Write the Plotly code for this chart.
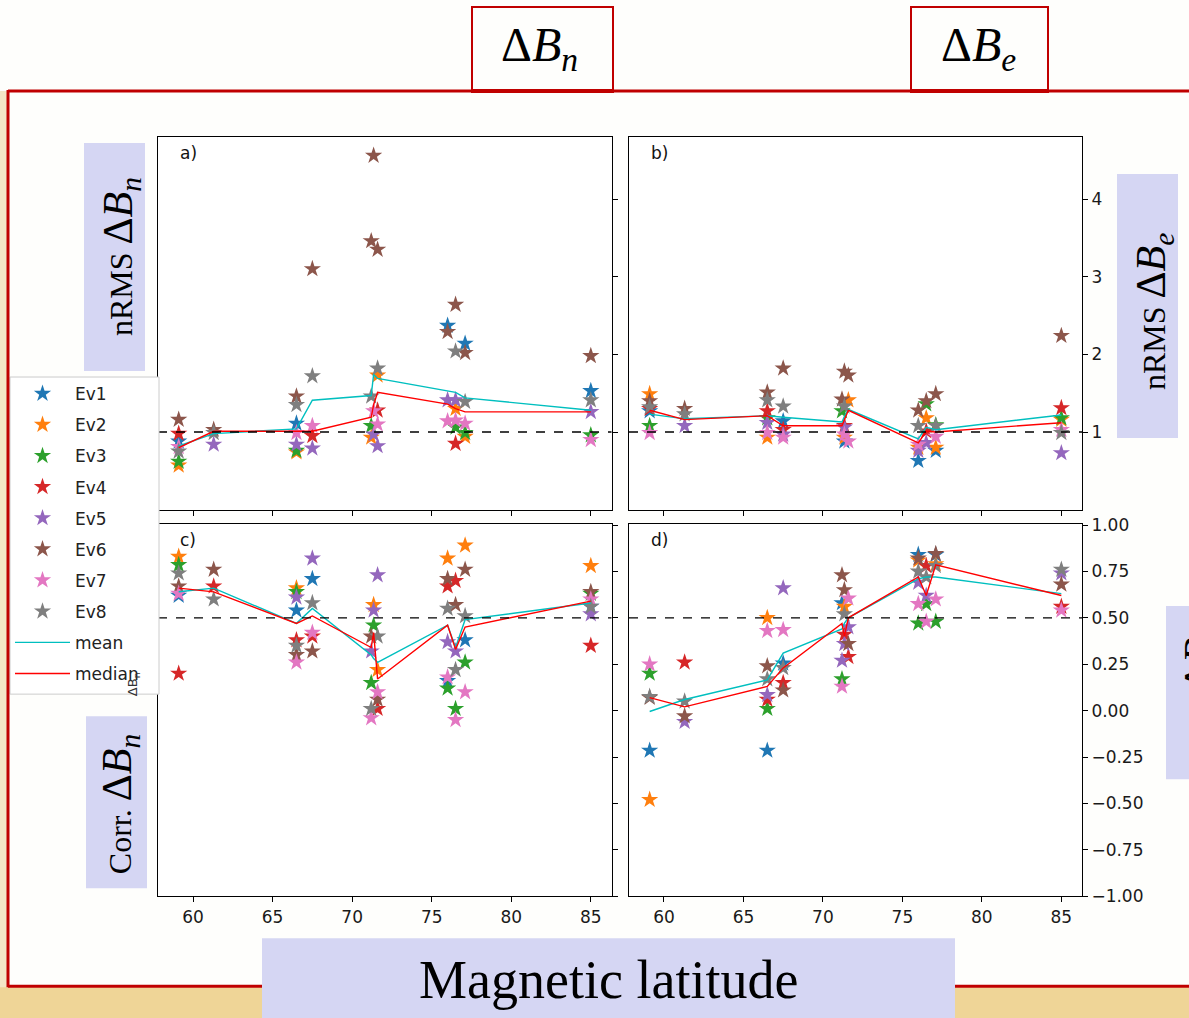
import plotly.graph_objects as go

W, H = 1189, 1018

# ---------------- data ----------------
lat = [59.1, 61.3, 66.5, 67.5, 71.2, 71.35, 71.6, 76.0, 76.5, 77.1, 85.0]
events = ["Ev1", "Ev2", "Ev3", "Ev4", "Ev5", "Ev6", "Ev7", "Ev8"]
xticks = [60, 65, 70, 75, 80, 85]
nrms_ticks = [1, 2, 3, 4]
corr_ticks = [-1.0, -0.75, -0.5, -0.25, 0.0, 0.25, 0.5, 0.75, 1.0]

# a) nRMS dBn  (rows: Ev1..Ev8, columns: lat)
nrms_bn = [
    [0.88, None, 1.11, None, None, None, None, 2.37, None, 2.14, 1.53],
    [0.57, None, 0.74, None, 0.93, None, 1.73, None, 1.30, 0.94, None],
    [0.62, None, 0.76, None, 1.08, None, None, None, 1.06, 0.99, 0.96],
    [0.98, None, None, 0.95, None, None, 1.28, None, 0.85, None, None],
    [None, 0.84, 0.84, 0.79, None, 0.97, 0.82, 1.41, 1.41, None, 1.26],
    [1.16, 1.03, 1.46, 3.10, 3.46, 4.56, 3.35, 2.29, 2.64, 2.02, 1.98],
    [0.81, None, 0.99, 1.08, None, 1.27, 1.10, 1.14, 1.15, 1.11, 0.90],
    [0.75, 0.99, 1.35, 1.72, 1.46, None, 1.82, None, 2.04, 1.39, 1.41],
]
mean_nrms_bn = [0.82, 0.98, 1.04, 1.41, 1.47, 1.74, 1.69, 1.53, 1.51, 1.44, 1.28]
med_nrms_bn = [0.80, 1.01, 1.01, 1.01, 1.19, 1.35, 1.51, 1.36, 1.30, 1.26, 1.26]

# b) nRMS dBe
nrms_be = [
    [1.27, None, None, 1.14, None, 0.88, None, 0.63, None, 0.76, None],
    [1.49, None, 0.93, None, None, 0.93, 1.41, 0.80, 1.18, 0.80, 1.16],
    [1.08, None, 1.18, None, 1.27, None, None, None, 1.36, 1.09, 1.18],
    [1.30, None, 1.27, 1.03, None, 1.08, None, None, 1.01, None, 1.31],
    [None, 1.08, 1.12, 0.97, None, 1.06, None, 0.76, 0.86, None, 0.73],
    [1.40, 1.30, 1.51, 1.82, 1.42, 1.78, 1.73, 1.28, 1.40, 1.49, 2.24],
    [0.99, None, 0.99, 0.93, None, 0.97, 0.88, 0.84, None, 0.94, 1.03],
    [1.32, 1.23, 1.41, 1.33, None, 1.33, None, 1.08, None, 1.08, 0.99],
]
mean_nrms_be = [1.23, 1.17, 1.21, 1.19, 1.13, 1.20, 1.29, 0.91, 1.06, 1.03, 1.22]
med_nrms_be = [1.28, 1.16, 1.21, 1.08, 1.08, 1.15, 1.28, 0.86, 1.01, 1.00, 1.12]

# c) Corr dBn
corr_bn = [
    [0.62, None, 0.54, 0.71, None, None, None, 0.16, None, 0.38, 0.56],
    [0.83, None, 0.66, None, None, 0.57, 0.22, 0.82, None, 0.89, 0.78],
    [0.785, None, 0.64, None, 0.15, 0.46, None, 0.12, 0.01, 0.26, 0.63],
    [0.20, 0.67, 0.38, 0.40, None, None, 0.01, 0.67, 0.70, None, 0.35],
    [None, None, 0.61, 0.82, 0.32, 0.54, 0.73, 0.37, 0.32, None, 0.52],
    [0.67, 0.76, 0.30, 0.32, 0.40, None, 0.06, 0.71, 0.57, 0.76, 0.64],
    [0.63, None, 0.26, 0.42, -0.04, None, 0.10, 0.18, -0.05, 0.10, 0.60],
    [0.74, 0.60, 0.35, 0.58, 0.01, None, 0.40, 0.55, 0.22, 0.51, 0.56],
]
mean_corr_bn = [0.64, 0.66, 0.47, 0.55, 0.30, 0.28, 0.26, 0.46, 0.34, 0.49, 0.58]
med_corr_bn = [0.66, 0.64, 0.47, 0.51, 0.34, 0.42, 0.17, 0.46, 0.33, 0.45, 0.59]

# d) Corr dBe
corr_be = [
    [-0.215, None, -0.215, 0.255, 0.58, None, None, 0.84, None, 0.84, None],
    [-0.48, None, 0.50, None, None, 0.56, None, 0.81, None, 0.79, None],
    [0.20, None, 0.01, None, 0.17, None, None, 0.47, 0.575, 0.48, None],
    [None, 0.26, 0.06, 0.15, None, 0.41, 0.29, None, 0.78, None, 0.56],
    [None, -0.06, 0.085, 0.66, 0.27, 0.36, 0.45, 0.69, 0.62, None, 0.74],
    [0.07, -0.03, 0.24, 0.11, 0.73, 0.65, 0.36, 0.82, None, 0.845, 0.68],
    [0.25, None, 0.43, 0.435, 0.13, None, 0.605, 0.575, 0.48, 0.60, 0.54],
    [0.075, 0.05, 0.17, 0.23, None, 0.52, None, 0.75, 0.72, 0.78, 0.76],
]
mean_corr_be = [-0.005, 0.06, 0.165, 0.31, 0.44, 0.47, 0.50, 0.71, 0.72, 0.72, 0.63]
med_corr_be = [0.07, 0.02, 0.13, 0.23, 0.47, 0.40, 0.50, 0.72, 0.62, 0.785, 0.62]

# ---------------- style ----------------
colors = ["#1f77b4", "#ff7f0e", "#2ca02c", "#d62728",
          "#9467bd", "#8c564b", "#e377c2", "#7f7f7f"]
MEAN_C = "#00bfbf"
MED_C = "#ff0000"
RED = "#c00000"
LAV = "#d5d6f3"
TICKFONT = dict(family="DejaVu Sans", size=17, color="#1a1a1a")

# observed page offset / vertical squeeze of the rendered figure
Y_OFF, Y_SC = 8.1, 0.981


def px(x):
    return x / W


def py(y):
    return 1 - ((y - Y_OFF) / Y_SC) / H


fig = go.Figure()

panels = [
    (nrms_bn, mean_nrms_bn, med_nrms_bn, "x", "y"),
    (nrms_be, mean_nrms_be, med_nrms_be, "x2", "y2"),
    (corr_bn, mean_corr_bn, med_corr_bn, "x3", "y3"),
    (corr_be, mean_corr_be, med_corr_be, "x4", "y4"),
]

for pi, (data, mean, med, xa, ya) in enumerate(panels):
    for ei, name in enumerate(events):
        fig.add_trace(go.Scatter(
            x=lat, y=data[ei], mode="markers", name=name,
            legendgroup=name, showlegend=(pi == 0),
            marker=dict(symbol="star", size=13, color=colors[ei],
                        line=dict(width=0)),
            xaxis=xa, yaxis=ya, hoverinfo="skip"))
    fig.add_trace(go.Scatter(
        x=lat, y=mean, mode="lines", name="mean", legendgroup="mean",
        showlegend=(pi == 0), line=dict(color=MEAN_C, width=1.4),
        xaxis=xa, yaxis=ya, hoverinfo="skip"))
    fig.add_trace(go.Scatter(
        x=lat, y=med, mode="lines", name="median", legendgroup="median",
        showlegend=(pi == 0), line=dict(color=MED_C, width=1.4),
        xaxis=xa, yaxis=ya, hoverinfo="skip"))

xdom_l = [px(158), px(611.5)]
xdom_r = [px(629), px(1082)]
ydom_t = [py(508.6), py(136)]
ydom_b = [py(895), py(523)]

ax_common = dict(showgrid=False, zeroline=False, showline=True,
                 linecolor="black", linewidth=1, mirror=True,
                 ticks="outside", ticklen=5, tickwidth=1, tickcolor="black",
                 tickfont=TICKFONT)

xcommon = dict(ax_common, range=[57.8, 86.3], tickvals=xticks)
ytop = dict(ax_common, range=[0, 4.8], tickvals=nrms_ticks, side="right")
ybot = dict(ax_common, range=[-1.0, 1.005], tickvals=corr_ticks,
            tickformat=".2f", side="right")

fig.update_layout(
    xaxis=dict(xcommon, domain=xdom_l, anchor="y", showticklabels=False),
    yaxis=dict(ytop, domain=ydom_t, anchor="x", showticklabels=False),
    xaxis2=dict(xcommon, domain=xdom_r, anchor="y2", showticklabels=False),
    yaxis2=dict(ytop, domain=ydom_t, anchor="x2"),
    xaxis3=dict(xcommon, domain=xdom_l, anchor="y3"),
    yaxis3=dict(ybot, domain=ydom_b, anchor="x3", showticklabels=False),
    xaxis4=dict(xcommon, domain=xdom_r, anchor="y4"),
    yaxis4=dict(ybot, domain=ydom_b, anchor="x4"),
)

shapes = []
# slide background pieces
shapes.append(dict(type="rect", xref="paper", yref="paper", layer="below",
                   x0=px(0), x1=px(8), y0=py(90), y1=py(1030),
                   fillcolor="#f4e6c6", line=dict(width=0)))
shapes.append(dict(type="rect", xref="paper", yref="paper", layer="below",
                   x0=px(0), x1=px(1189), y0=py(986), y1=py(1030),
                   fillcolor="#efd597", line=dict(width=0)))

# dashed reference lines
for xr, yr, yv in [("x", "y", 1), ("x2", "y2", 1), ("x3", "y3", 0.5), ("x4", "y4", 0.5)]:
    shapes.append(dict(type="line", xref=xr + " domain", yref=yr, layer="above",
                       x0=0, x1=1, y0=yv, y1=yv,
                       line=dict(color="black", width=1.3, dash="dash")))

# legend frame
shapes.append(dict(type="rect", xref="paper", yref="paper", layer="above",
                   x0=px(10), x1=px(159), y0=py(693), y1=py(376),
                   fillcolor="white", line=dict(color="#cccccc", width=1)))

# red frame
shapes.append(dict(type="line", xref="paper", yref="paper", layer="above",
                   x0=px(8), x1=px(1189), y0=py(90), y1=py(90),
                   line=dict(color=RED, width=3)))
shapes.append(dict(type="line", xref="paper", yref="paper", layer="above",
                   x0=px(8), x1=px(8), y0=py(89), y1=py(986),
                   line=dict(color=RED, width=3)))
shapes.append(dict(type="line", xref="paper", yref="paper", layer="above",
                   x0=px(8), x1=px(1189), y0=py(985), y1=py(985),
                   line=dict(color=RED, width=3)))

# top boxes
for x0, x1 in [(472, 613), (911, 1048)]:
    shapes.append(dict(type="rect", xref="paper", yref="paper", layer="above",
                       x0=px(x0), x1=px(x1), y0=py(91), y1=py(6),
                       fillcolor="#fefefc", line=dict(color=RED, width=2)))
    shapes.append(dict(type="line", xref="paper", yref="paper", layer="above",
                       x0=px(x0), x1=px(x1), y0=py(90), y1=py(90),
                       line=dict(color=RED, width=4)))

# lavender boxes
for x0, x1, y0, y1 in [(84, 145, 142, 370), (1117, 1178, 173, 437),
                       (86, 147, 715, 887), (1166, 1189, 605, 778),
                       (262, 955, 937, 1030)]:
    shapes.append(dict(type="rect", xref="paper", yref="paper", layer="above",
                       x0=px(x0), x1=px(x1), y0=py(y1), y1=py(y0),
                       fillcolor=LAV, line=dict(width=0)))

annotations = []
for ref, lab in [("x", "a)"), ("x2", "b)"), ("x3", "c)"), ("x4", "d)")]:
    yref = ref.replace("x", "y")
    annotations.append(dict(xref=ref + " domain", yref=yref + " domain",
                            x=0.045, y=0.99, xanchor="left", yanchor="top",
                            text=lab, showarrow=False,
                            font=dict(family="DejaVu Sans", size=17, color="#111")))

SERIF = "Liberation Serif"
math_n = "<span style='font-size:42px'>Δ<i>B</i><sub><i>n</i></sub></span>"
math_e = "<span style='font-size:42px'>Δ<i>B</i><sub><i>e</i></sub></span>"


def ann(x, y, text, size, angle=0, family=SERIF, color="black"):
    return dict(xref="paper", yref="paper", x=px(x), y=py(y), showarrow=False,
                xanchor="center", yanchor="middle", textangle=angle,
                text=text, font=dict(family=family, size=size, color=color))


annotations += [
    ann(539, 47, "Δ<i>B</i><sub><i>n</i></sub>", 48),
    ann(978, 47, "Δ<i>B</i><sub><i>e</i></sub>", 48),
    ann(121, 256, "nRMS " + math_n, 32, -90),
    ann(1154, 311, "nRMS " + math_e, 32, -90),
    ann(120, 803, "Corr. " + math_n, 32, -90),
    ann(1202, 693, "Corr. " + math_e, 32, -90),
    ann(608, 979, "Magnetic latitude", 54),
    ann(133, 683, "ΔB<sub>n</sub>", 13, -90, "DejaVu Sans", "#333"),
]

fig.update_layout(
    width=W, height=H, autosize=False,
    margin=dict(l=0, r=0, t=0, b=0, pad=0),
    paper_bgcolor="#fefefc", plot_bgcolor="white",
    shapes=shapes, annotations=annotations,
    showlegend=True,
    legend=dict(x=px(10), y=py(375), xanchor="left", yanchor="top",
                bgcolor="rgba(0,0,0,0)", borderwidth=0,
                font=dict(family="DejaVu Sans", size=17, color="#222"),
                itemwidth=55, tracegroupgap=6, traceorder="grouped"),
)

fig.write_html("out.html")
